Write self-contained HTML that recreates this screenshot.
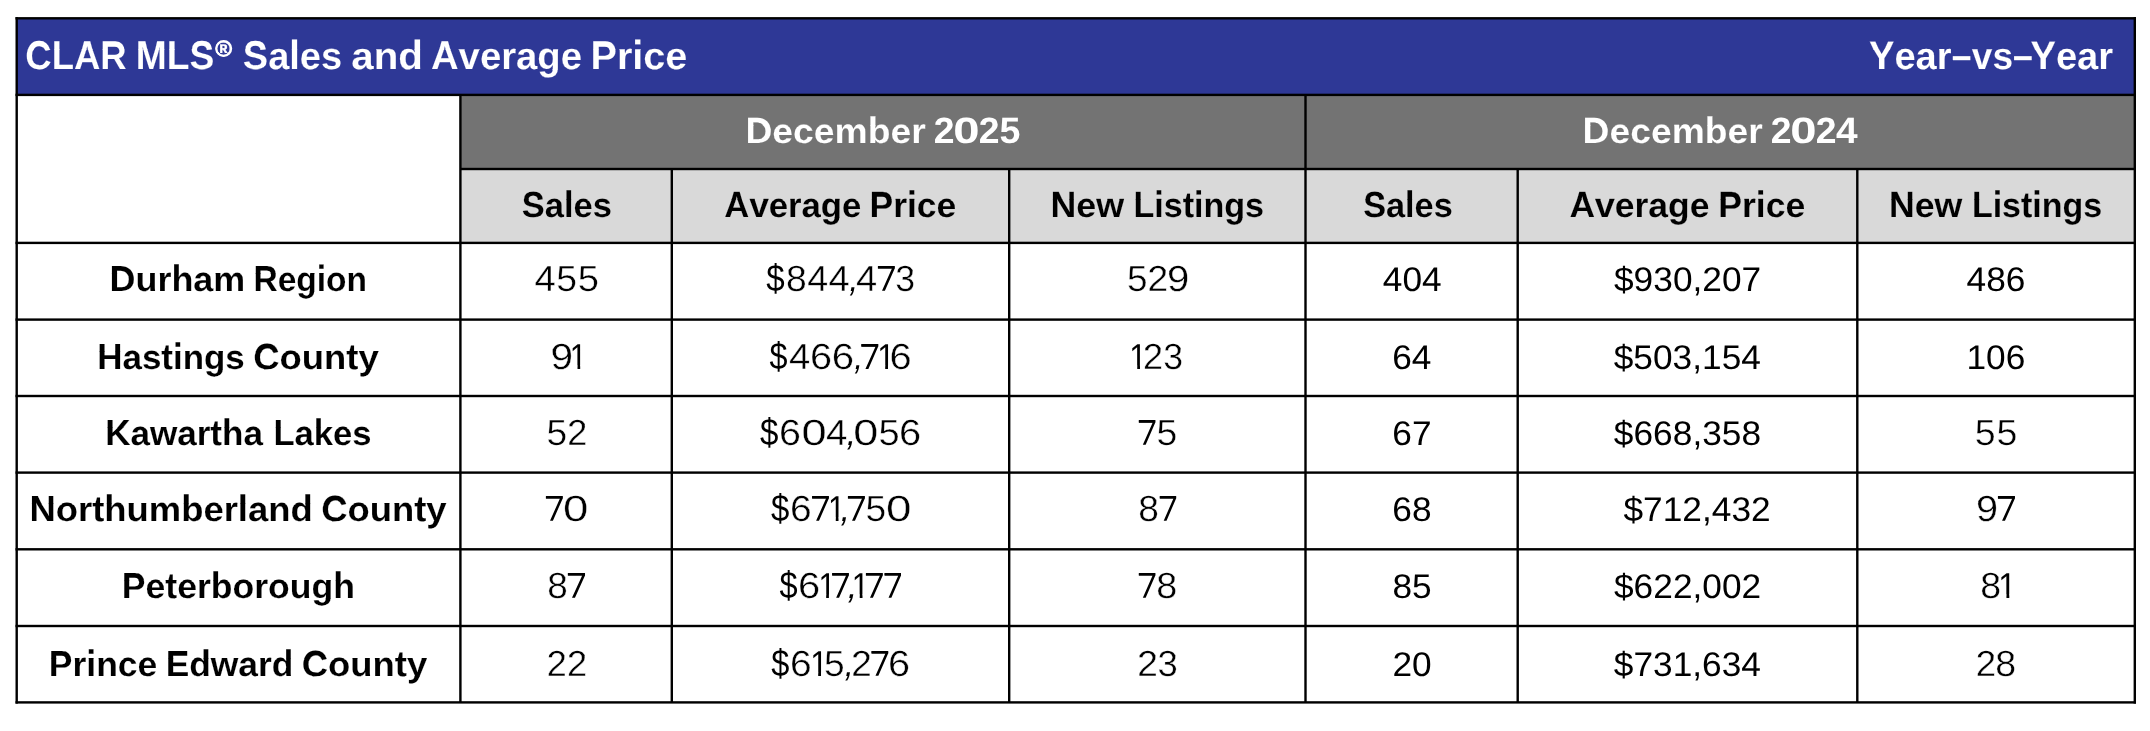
<!DOCTYPE html><html><head><meta charset="utf-8"><title>CLAR MLS Sales and Average Price</title><style>html,body{margin:0;padding:0;background:#fff;width:2150px;height:731px;}svg{display:block;will-change:transform;}text{font-family:"Liberation Sans",sans-serif;font-kerning:none;font-variant-ligatures:none;text-rendering:geometricPrecision;}</style></head><body>
<svg width="2150" height="731" viewBox="0 0 2150 731">
<rect x="0" y="0" width="2150" height="731" fill="#fff"/>
<defs><clipPath id="c0"><rect x="0" y="49" width="2150" height="21"/></clipPath><clipPath id="c1"><rect x="0" y="0" width="2150" height="50"/></clipPath><clipPath id="c2"><rect x="0" y="69" width="2150" height="662"/></clipPath><clipPath id="c3"><rect x="0" y="125" width="2150" height="19"/></clipPath><clipPath id="c4"><rect x="0" y="0" width="2150" height="126"/></clipPath><clipPath id="c5"><rect x="0" y="143" width="2150" height="588"/></clipPath><clipPath id="c6"><rect x="0" y="199" width="2150" height="19"/></clipPath><clipPath id="c7"><rect x="0" y="0" width="2150" height="200"/></clipPath><clipPath id="c8"><rect x="0" y="217" width="2150" height="514"/></clipPath><clipPath id="c9"><rect x="0" y="273" width="2150" height="19"/></clipPath><clipPath id="c10"><rect x="0" y="0" width="2150" height="274"/></clipPath><clipPath id="c11"><rect x="0" y="291" width="2150" height="440"/></clipPath><clipPath id="c12"><rect x="0" y="351" width="2150" height="19"/></clipPath><clipPath id="c13"><rect x="0" y="0" width="2150" height="352"/></clipPath><clipPath id="c14"><rect x="0" y="369" width="2150" height="362"/></clipPath><clipPath id="c15"><rect x="0" y="427" width="2150" height="19"/></clipPath><clipPath id="c16"><rect x="0" y="0" width="2150" height="428"/></clipPath><clipPath id="c17"><rect x="0" y="445" width="2150" height="286"/></clipPath><clipPath id="c18"><rect x="0" y="503" width="2150" height="19"/></clipPath><clipPath id="c19"><rect x="0" y="0" width="2150" height="504"/></clipPath><clipPath id="c20"><rect x="0" y="521" width="2150" height="210"/></clipPath><clipPath id="c21"><rect x="0" y="580" width="2150" height="19"/></clipPath><clipPath id="c22"><rect x="0" y="0" width="2150" height="581"/></clipPath><clipPath id="c23"><rect x="0" y="598" width="2150" height="133"/></clipPath><clipPath id="c24"><rect x="0" y="658" width="2150" height="19"/></clipPath><clipPath id="c25"><rect x="0" y="0" width="2150" height="659"/></clipPath><clipPath id="c26"><rect x="0" y="676" width="2150" height="55"/></clipPath><clipPath id="k0"><rect x="876.00" y="263.90" width="20.70" height="4.48"/></clipPath><clipPath id="k1"><rect x="570.20" y="341.10" width="13.00" height="24.51"/><rect x="577.51" y="365.21" width="2.69" height="4.96"/></clipPath><clipPath id="k2"><rect x="859.40" y="342.10" width="20.80" height="4.48"/></clipPath><clipPath id="k3"><rect x="877.70" y="341.10" width="13.30" height="24.51"/><rect x="885.19" y="365.21" width="2.81" height="4.96"/></clipPath><clipPath id="k4"><rect x="1129.80" y="341.10" width="13.20" height="24.51"/><rect x="1137.23" y="365.21" width="2.77" height="4.96"/></clipPath><clipPath id="k5"><rect x="1136.90" y="418.00" width="20.40" height="4.48"/></clipPath><clipPath id="k6"><rect x="544.00" y="493.90" width="20.70" height="4.48"/></clipPath><clipPath id="k7"><rect x="810.10" y="493.90" width="20.70" height="4.48"/></clipPath><clipPath id="k8"><rect x="828.40" y="492.90" width="13.10" height="24.51"/><rect x="835.77" y="517.01" width="2.73" height="4.96"/></clipPath><clipPath id="k9"><rect x="846.00" y="493.90" width="20.80" height="4.48"/></clipPath><clipPath id="k10"><rect x="1157.80" y="493.90" width="20.30" height="4.48"/></clipPath><clipPath id="k11"><rect x="565.90" y="570.90" width="21.10" height="4.48"/></clipPath><clipPath id="k12"><rect x="818.80" y="569.90" width="13.10" height="24.51"/><rect x="826.17" y="594.01" width="2.73" height="4.96"/></clipPath><clipPath id="k13"><rect x="830.20" y="570.90" width="20.60" height="4.48"/></clipPath><clipPath id="k14"><rect x="852.30" y="569.90" width="13.20" height="24.51"/><rect x="859.73" y="594.01" width="2.77" height="4.96"/></clipPath><clipPath id="k15"><rect x="864.00" y="570.90" width="20.70" height="4.48"/></clipPath><clipPath id="k16"><rect x="882.60" y="570.90" width="20.40" height="4.48"/></clipPath><clipPath id="k17"><rect x="1136.90" y="570.90" width="20.40" height="4.48"/></clipPath><clipPath id="k18"><rect x="1998.90" y="570.00" width="13.40" height="24.51"/><rect x="2006.45" y="594.11" width="2.85" height="4.96"/></clipPath><clipPath id="k19"><rect x="1996.00" y="494.00" width="20.90" height="4.48"/></clipPath><clipPath id="k20"><rect x="810.70" y="647.90" width="13.30" height="24.51"/><rect x="818.19" y="672.01" width="2.81" height="4.96"/></clipPath><clipPath id="k21"><rect x="869.50" y="648.90" width="20.60" height="4.48"/></clipPath></defs>
<rect x="16.7" y="18.3" width="2118.10" height="76.60" fill="#2e3896"/>
<rect x="460.4" y="94.9" width="1674.40" height="74.10" fill="#737373"/>
<rect x="460.4" y="169.0" width="1674.40" height="73.90" fill="#d9d9d9"/>
<g clip-path="url(#c0)"><text id="t1" transform="matrix(0.36527 0 0 0.37897 25.30 69.10)" font-size="100.0" font-weight="bold" fill="#fff" stroke="#2e3896" stroke-width="0.322">CLAR</text></g>
<g clip-path="url(#c1)"><use href="#t1" transform="matrix(1 0 0 1.29265 0 -14.363)"/></g>
<g clip-path="url(#c2)"><use href="#t1" transform="matrix(1 0 0 1.08158 0 -5.637)"/></g>
<g clip-path="url(#c0)"><text id="t2" transform="matrix(0.37159 0 0 0.37897 135.81 69.10)" font-size="100.0" font-weight="bold" fill="#fff" stroke="#2e3896" stroke-width="0.320">MLS</text></g>
<g clip-path="url(#c1)"><use href="#t2" transform="matrix(1 0 0 1.29265 0 -14.363)"/></g>
<g clip-path="url(#c2)"><use href="#t2" transform="matrix(1 0 0 1.08158 0 -5.637)"/></g>
<g clip-path="url(#c0)"><text id="t3" transform="matrix(0.37980 0 0 0.37897 242.81 69.10)" font-size="100.0" font-weight="bold" fill="#fff" stroke="#2e3896" stroke-width="0.316">Sales</text></g>
<g clip-path="url(#c1)"><use href="#t3" transform="matrix(1 0 0 1.29265 0 -14.363)"/></g>
<g clip-path="url(#c2)"><use href="#t3" transform="matrix(1 0 0 1.08158 0 -5.637)"/></g>
<g clip-path="url(#c0)"><text id="t4" transform="matrix(0.40354 0 0 0.37897 351.22 69.10)" font-size="100.0" font-weight="bold" fill="#fff" stroke="#2e3896" stroke-width="0.307">and</text></g>
<g clip-path="url(#c1)"><use href="#t4" transform="matrix(1 0 0 1.29265 0 -14.363)"/></g>
<g clip-path="url(#c2)"><use href="#t4" transform="matrix(1 0 0 1.08158 0 -5.637)"/></g>
<g clip-path="url(#c0)"><text id="t5" transform="matrix(0.38275 0 0 0.37897 430.95 69.10)" font-size="100.0" font-weight="bold" fill="#fff" stroke="#2e3896" stroke-width="0.315">Average</text></g>
<g clip-path="url(#c1)"><use href="#t5" transform="matrix(1 0 0 1.29265 0 -14.363)"/></g>
<g clip-path="url(#c2)"><use href="#t5" transform="matrix(1 0 0 1.08158 0 -5.637)"/></g>
<g clip-path="url(#c0)"><text id="t6" transform="matrix(0.39570 0 0 0.37897 590.55 69.10)" font-size="100.0" font-weight="bold" fill="#fff" stroke="#2e3896" stroke-width="0.310">Price</text></g>
<g clip-path="url(#c1)"><use href="#t6" transform="matrix(1 0 0 1.29265 0 -14.363)"/></g>
<g clip-path="url(#c2)"><use href="#t6" transform="matrix(1 0 0 1.08158 0 -5.637)"/></g>
<text transform="matrix(0.21574 0 0 0.21360 215.56 55.60)" font-size="100.0" font-weight="bold" fill="#fff" stroke="#fff" stroke-width="1.85">®</text>
<circle cx="223.7" cy="48.45" r="7.55" fill="none" stroke="#fff" stroke-width="1.9"/>
<g clip-path="url(#c0)"><text id="t7" transform="matrix(0.38058 0 0 0.37763 1869.05 69.10)" font-size="100.0" font-weight="bold" fill="#fff" stroke="#2e3896" stroke-width="0.317">Year</text></g>
<g clip-path="url(#c1)"><use href="#t7" transform="matrix(1 0 0 1.29289 0 -14.395)"/></g>
<g clip-path="url(#c2)"><use href="#t7" transform="matrix(1 0 0 1.08158 0 -5.637)"/></g>
<g clip-path="url(#c0)"><text id="t8" transform="matrix(0.37100 0 0 0.37763 1971.76 69.10)" font-size="100.0" font-weight="bold" fill="#fff" stroke="#2e3896" stroke-width="0.321">vs</text></g>
<g clip-path="url(#c1)"><use href="#t8" transform="matrix(1 0 0 1.29289 0 -14.395)"/></g>
<g clip-path="url(#c2)"><use href="#t8" transform="matrix(1 0 0 1.08158 0 -5.637)"/></g>
<g clip-path="url(#c0)"><text id="t9" transform="matrix(0.38058 0 0 0.37763 2030.55 69.10)" font-size="100.0" font-weight="bold" fill="#fff" stroke="#2e3896" stroke-width="0.317">Year</text></g>
<g clip-path="url(#c1)"><use href="#t9" transform="matrix(1 0 0 1.29289 0 -14.395)"/></g>
<g clip-path="url(#c2)"><use href="#t9" transform="matrix(1 0 0 1.08158 0 -5.637)"/></g>
<text transform="matrix(0.35345 0 0 0.40355 1951.83 69.13)" font-size="100.0" font-weight="bold" fill="#fff">–</text>
<text transform="matrix(0.35547 0 0 0.40355 2012.92 69.13)" font-size="100.0" font-weight="bold" fill="#fff">–</text>
<g clip-path="url(#c3)"><text id="t10" transform="matrix(0.37296 0 0 0.33866 745.41 143.10)" font-size="100.0" font-weight="bold" fill="#fff" stroke="#737373" stroke-width="0.337">December</text></g>
<g clip-path="url(#c4)"><use href="#t10" transform="matrix(1 0 0 1.30065 0 -37.644)"/></g>
<g clip-path="url(#c5)"><use href="#t10" transform="matrix(1 0 0 1.08158 0 -11.674)"/></g>
<g clip-path="url(#c3)"><text id="t11" transform="matrix(0.37254 0 0 0.33866 1582.61 143.10)" font-size="100.0" font-weight="bold" fill="#fff" stroke="#737373" stroke-width="0.337">December</text></g>
<g clip-path="url(#c4)"><use href="#t11" transform="matrix(1 0 0 1.30065 0 -37.644)"/></g>
<g clip-path="url(#c5)"><use href="#t11" transform="matrix(1 0 0 1.08158 0 -11.674)"/></g>
<text transform="matrix(0.37387 0 0 0.36629 933.70 143.10)" font-size="100.0" font-weight="bold" fill="#fff">2</text>
<text transform="matrix(0.47310 0 0 0.36629 953.23 143.10)" font-size="100.0" font-weight="bold" fill="#fff">0</text>
<text transform="matrix(0.37387 0 0 0.36629 978.80 143.10)" font-size="100.0" font-weight="bold" fill="#fff">2</text>
<text transform="matrix(0.37584 0 0 0.36629 999.44 143.10)" font-size="100.0" font-weight="bold" fill="#fff">5</text>
<text transform="matrix(0.37387 0 0 0.36629 1770.70 143.10)" font-size="100.0" font-weight="bold" fill="#fff">2</text>
<text transform="matrix(0.47310 0 0 0.36629 1790.23 143.10)" font-size="100.0" font-weight="bold" fill="#fff">0</text>
<text transform="matrix(0.37387 0 0 0.36629 1815.80 143.10)" font-size="100.0" font-weight="bold" fill="#fff">2</text>
<text transform="matrix(0.38832 0 0 0.36629 1835.91 143.10)" font-size="100.0" font-weight="bold" fill="#fff">4</text>
<g clip-path="url(#c6)"><text id="t12" transform="matrix(0.34481 0 0 0.33731 521.71 217.00)" font-size="100.0" font-weight="bold" fill="#000" stroke="#d9d9d9" stroke-width="0.352">Sales</text></g>
<g clip-path="url(#c7)"><use href="#t12" transform="matrix(1 0 0 1.30095 0 -59.943)"/></g>
<g clip-path="url(#c8)"><use href="#t12" transform="matrix(1 0 0 1.08158 0 -17.702)"/></g>
<g clip-path="url(#c6)"><text id="t13" transform="matrix(0.34673 0 0 0.33731 724.34 217.00)" font-size="100.0" font-weight="bold" fill="#000" stroke="#d9d9d9" stroke-width="0.351">Average</text></g>
<g clip-path="url(#c7)"><use href="#t13" transform="matrix(1 0 0 1.30095 0 -59.943)"/></g>
<g clip-path="url(#c8)"><use href="#t13" transform="matrix(1 0 0 1.08158 0 -17.702)"/></g>
<g clip-path="url(#c6)"><text id="t14" transform="matrix(0.35476 0 0 0.33731 869.53 217.00)" font-size="100.0" font-weight="bold" fill="#000" stroke="#d9d9d9" stroke-width="0.347">Price</text></g>
<g clip-path="url(#c7)"><use href="#t14" transform="matrix(1 0 0 1.30095 0 -59.943)"/></g>
<g clip-path="url(#c8)"><use href="#t14" transform="matrix(1 0 0 1.08158 0 -17.702)"/></g>
<g clip-path="url(#c6)"><text id="t15" transform="matrix(0.35732 0 0 0.33731 1050.56 217.00)" font-size="100.0" font-weight="bold" fill="#000" stroke="#d9d9d9" stroke-width="0.346">New</text></g>
<g clip-path="url(#c7)"><use href="#t15" transform="matrix(1 0 0 1.30095 0 -59.943)"/></g>
<g clip-path="url(#c8)"><use href="#t15" transform="matrix(1 0 0 1.08158 0 -17.702)"/></g>
<g clip-path="url(#c6)"><text id="t16" transform="matrix(0.34075 0 0 0.33731 1133.42 217.00)" font-size="100.0" font-weight="bold" fill="#000" stroke="#d9d9d9" stroke-width="0.354">Listings</text></g>
<g clip-path="url(#c7)"><use href="#t16" transform="matrix(1 0 0 1.30095 0 -59.943)"/></g>
<g clip-path="url(#c8)"><use href="#t16" transform="matrix(1 0 0 1.08158 0 -17.702)"/></g>
<g clip-path="url(#c6)"><text id="t17" transform="matrix(0.34245 0 0 0.33731 1363.21 217.00)" font-size="100.0" font-weight="bold" fill="#000" stroke="#d9d9d9" stroke-width="0.353">Sales</text></g>
<g clip-path="url(#c7)"><use href="#t17" transform="matrix(1 0 0 1.30095 0 -59.943)"/></g>
<g clip-path="url(#c8)"><use href="#t17" transform="matrix(1 0 0 1.08158 0 -17.702)"/></g>
<g clip-path="url(#c6)"><text id="t18" transform="matrix(0.35497 0 0 0.33731 1569.42 217.00)" font-size="100.0" font-weight="bold" fill="#000" stroke="#d9d9d9" stroke-width="0.347">Average</text></g>
<g clip-path="url(#c7)"><use href="#t18" transform="matrix(1 0 0 1.30095 0 -59.943)"/></g>
<g clip-path="url(#c8)"><use href="#t18" transform="matrix(1 0 0 1.08158 0 -17.702)"/></g>
<g clip-path="url(#c6)"><text id="t19" transform="matrix(0.35562 0 0 0.33731 1718.22 217.00)" font-size="100.0" font-weight="bold" fill="#000" stroke="#d9d9d9" stroke-width="0.346">Price</text></g>
<g clip-path="url(#c7)"><use href="#t19" transform="matrix(1 0 0 1.30095 0 -59.943)"/></g>
<g clip-path="url(#c8)"><use href="#t19" transform="matrix(1 0 0 1.08158 0 -17.702)"/></g>
<g clip-path="url(#c6)"><text id="t20" transform="matrix(0.35606 0 0 0.33731 1889.02 217.00)" font-size="100.0" font-weight="bold" fill="#000" stroke="#d9d9d9" stroke-width="0.346">New</text></g>
<g clip-path="url(#c7)"><use href="#t20" transform="matrix(1 0 0 1.30095 0 -59.943)"/></g>
<g clip-path="url(#c8)"><use href="#t20" transform="matrix(1 0 0 1.08158 0 -17.702)"/></g>
<g clip-path="url(#c6)"><text id="t21" transform="matrix(0.33941 0 0 0.33731 1971.93 217.00)" font-size="100.0" font-weight="bold" fill="#000" stroke="#d9d9d9" stroke-width="0.355">Listings</text></g>
<g clip-path="url(#c7)"><use href="#t21" transform="matrix(1 0 0 1.30095 0 -59.943)"/></g>
<g clip-path="url(#c8)"><use href="#t21" transform="matrix(1 0 0 1.08158 0 -17.702)"/></g>
<g clip-path="url(#c9)"><text id="t22" transform="matrix(0.35896 0 0 0.33597 109.60 290.90)" font-size="100.0" font-weight="bold" fill="#000" stroke="#fff" stroke-width="0.345">Durham</text></g>
<g clip-path="url(#c10)"><use href="#t22" transform="matrix(1 0 0 1.30125 0 -82.288)"/></g>
<g clip-path="url(#c11)"><use href="#t22" transform="matrix(1 0 0 1.08158 0 -23.731)"/></g>
<g clip-path="url(#c9)"><text id="t23" transform="matrix(0.33530 0 0 0.33597 253.46 290.90)" font-size="100.0" font-weight="bold" fill="#000" stroke="#fff" stroke-width="0.358">Region</text></g>
<g clip-path="url(#c10)"><use href="#t23" transform="matrix(1 0 0 1.30125 0 -82.288)"/></g>
<g clip-path="url(#c11)"><use href="#t23" transform="matrix(1 0 0 1.08158 0 -23.731)"/></g>
<g clip-path="url(#c12)"><text id="t24" transform="matrix(0.34919 0 0 0.33597 97.26 369.00)" font-size="100.0" font-weight="bold" fill="#000" stroke="#fff" stroke-width="0.350">Hastings</text></g>
<g clip-path="url(#c13)"><use href="#t24" transform="matrix(1 0 0 1.30125 0 -105.816)"/></g>
<g clip-path="url(#c14)"><use href="#t24" transform="matrix(1 0 0 1.08158 0 -30.102)"/></g>
<g clip-path="url(#c12)"><text id="t25" transform="matrix(0.36410 0 0 0.33597 253.31 369.00)" font-size="100.0" font-weight="bold" fill="#000" stroke="#fff" stroke-width="0.343">County</text></g>
<g clip-path="url(#c13)"><use href="#t25" transform="matrix(1 0 0 1.30125 0 -105.816)"/></g>
<g clip-path="url(#c14)"><use href="#t25" transform="matrix(1 0 0 1.08158 0 -30.102)"/></g>
<g clip-path="url(#c15)"><text id="t26" transform="matrix(0.35015 0 0 0.33597 105.26 444.80)" font-size="100.0" font-weight="bold" fill="#000" stroke="#fff" stroke-width="0.350">Kawartha</text></g>
<g clip-path="url(#c16)"><use href="#t26" transform="matrix(1 0 0 1.30125 0 -128.651)"/></g>
<g clip-path="url(#c17)"><use href="#t26" transform="matrix(1 0 0 1.08158 0 -36.286)"/></g>
<g clip-path="url(#c15)"><text id="t27" transform="matrix(0.34573 0 0 0.33597 273.39 444.80)" font-size="100.0" font-weight="bold" fill="#000" stroke="#fff" stroke-width="0.352">Lakes</text></g>
<g clip-path="url(#c16)"><use href="#t27" transform="matrix(1 0 0 1.30125 0 -128.651)"/></g>
<g clip-path="url(#c17)"><use href="#t27" transform="matrix(1 0 0 1.08158 0 -36.286)"/></g>
<g clip-path="url(#c18)"><text id="t28" transform="matrix(0.36403 0 0 0.33597 29.56 520.70)" font-size="100.0" font-weight="bold" fill="#000" stroke="#fff" stroke-width="0.343">Northumberland</text></g>
<g clip-path="url(#c19)"><use href="#t28" transform="matrix(1 0 0 1.30125 0 -151.516)"/></g>
<g clip-path="url(#c20)"><use href="#t28" transform="matrix(1 0 0 1.08158 0 -42.478)"/></g>
<g clip-path="url(#c18)"><text id="t29" transform="matrix(0.36380 0 0 0.33597 321.31 520.70)" font-size="100.0" font-weight="bold" fill="#000" stroke="#fff" stroke-width="0.343">County</text></g>
<g clip-path="url(#c19)"><use href="#t29" transform="matrix(1 0 0 1.30125 0 -151.516)"/></g>
<g clip-path="url(#c20)"><use href="#t29" transform="matrix(1 0 0 1.08158 0 -42.478)"/></g>
<g clip-path="url(#c21)"><text id="t30" transform="matrix(0.35570 0 0 0.33597 121.82 597.80)" font-size="100.0" font-weight="bold" fill="#000" stroke="#fff" stroke-width="0.347">Peterborough</text></g>
<g clip-path="url(#c22)"><use href="#t30" transform="matrix(1 0 0 1.30125 0 -174.742)"/></g>
<g clip-path="url(#c23)"><use href="#t30" transform="matrix(1 0 0 1.08158 0 -48.767)"/></g>
<g clip-path="url(#c24)"><text id="t31" transform="matrix(0.35486 0 0 0.33597 48.83 675.90)" font-size="100.0" font-weight="bold" fill="#000" stroke="#fff" stroke-width="0.347">Prince</text></g>
<g clip-path="url(#c25)"><use href="#t31" transform="matrix(1 0 0 1.30125 0 -198.270)"/></g>
<g clip-path="url(#c26)"><use href="#t31" transform="matrix(1 0 0 1.08158 0 -55.139)"/></g>
<g clip-path="url(#c24)"><text id="t32" transform="matrix(0.35355 0 0 0.33597 165.63 675.90)" font-size="100.0" font-weight="bold" fill="#000" stroke="#fff" stroke-width="0.348">Edward</text></g>
<g clip-path="url(#c25)"><use href="#t32" transform="matrix(1 0 0 1.30125 0 -198.270)"/></g>
<g clip-path="url(#c26)"><use href="#t32" transform="matrix(1 0 0 1.08158 0 -55.139)"/></g>
<g clip-path="url(#c24)"><text id="t33" transform="matrix(0.36439 0 0 0.33597 301.71 675.90)" font-size="100.0" font-weight="bold" fill="#000" stroke="#fff" stroke-width="0.343">County</text></g>
<g clip-path="url(#c25)"><use href="#t33" transform="matrix(1 0 0 1.30125 0 -198.270)"/></g>
<g clip-path="url(#c26)"><use href="#t33" transform="matrix(1 0 0 1.08158 0 -55.139)"/></g>
<text transform="matrix(0.38301 0 0 0.36338 534.52 290.70)" font-size="100.0" font-weight="normal" fill="#000" stroke="#fff" stroke-width="1.072" stroke-linejoin="round">4</text>
<text transform="matrix(0.37332 0 0 0.36338 556.31 290.70)" font-size="100.0" font-weight="normal" fill="#000" stroke="#fff" stroke-width="1.086" stroke-linejoin="round">5</text>
<text transform="matrix(0.38176 0 0 0.36338 577.77 290.70)" font-size="100.0" font-weight="normal" fill="#000" stroke="#fff" stroke-width="1.074" stroke-linejoin="round">5</text>
<text transform="matrix(0.33063 0 0 0.37798 766.34 291.08)" font-size="100.0" font-weight="normal" fill="#000">$</text>
<text transform="matrix(0.37294 0 0 0.36338 785.88 290.70)" font-size="100.0" font-weight="normal" fill="#000" stroke="#fff" stroke-width="1.086" stroke-linejoin="round">8</text>
<text transform="matrix(0.37705 0 0 0.36338 807.33 290.70)" font-size="100.0" font-weight="normal" fill="#000" stroke="#fff" stroke-width="1.080" stroke-linejoin="round">4</text>
<text transform="matrix(0.38102 0 0 0.36338 828.53 290.70)" font-size="100.0" font-weight="normal" fill="#000" stroke="#fff" stroke-width="1.075" stroke-linejoin="round">4</text>
<text transform="matrix(0.32085 0 -0.06604 0.34133 847.66 290.70)" font-size="100.0" fill="#000">,</text>
<text transform="matrix(0.38102 0 0 0.36338 856.03 290.70)" font-size="100.0" font-weight="normal" fill="#000" stroke="#fff" stroke-width="1.075" stroke-linejoin="round">4</text>
<path d="M878.00,265.90 L894.70,265.90 L894.70,268.38 L884.90,290.70 L882.01,290.70 L891.94,268.53 L878.00,268.53 Z" fill="#000"/>
<g clip-path="url(#k0)"><text transform="matrix(0.36736 0 0 0.36047 876.12 290.70)" font-size="100.0" font-weight="normal" fill="#000">7</text></g>
<text transform="matrix(0.35645 0 0 0.36338 895.24 290.70)" font-size="100.0" font-weight="normal" fill="#000" stroke="#fff" stroke-width="1.111" stroke-linejoin="round">3</text>
<text transform="matrix(0.36910 0 0 0.36338 1127.02 290.70)" font-size="100.0" font-weight="normal" fill="#000" stroke="#fff" stroke-width="1.092" stroke-linejoin="round">5</text>
<text transform="matrix(0.37097 0 0 0.36338 1147.43 290.70)" font-size="100.0" font-weight="normal" fill="#000" stroke="#fff" stroke-width="1.089" stroke-linejoin="round">2</text>
<text transform="matrix(0.40051 0 0 0.36338 1167.12 290.70)" font-size="100.0" font-weight="normal" fill="#000" stroke="#fff" stroke-width="1.047" stroke-linejoin="round">9</text>
<text transform="matrix(0.40484 0 0 0.36338 550.40 368.90)" font-size="100.0" font-weight="normal" fill="#000" stroke="#fff" stroke-width="1.041" stroke-linejoin="round">9</text>
<g clip-path="url(#k1)"><text transform="matrix(0.30453 0 0 0.36047 569.85 368.90)" font-size="100.0" font-weight="normal" fill="#000">1</text></g>
<text transform="matrix(0.32307 0 0 0.37798 769.45 369.28)" font-size="100.0" font-weight="normal" fill="#000">$</text>
<text transform="matrix(0.38301 0 0 0.36338 789.02 368.90)" font-size="100.0" font-weight="normal" fill="#000" stroke="#fff" stroke-width="1.072" stroke-linejoin="round">4</text>
<text transform="matrix(0.39660 0 0 0.36338 809.89 368.90)" font-size="100.0" font-weight="normal" fill="#000" stroke="#fff" stroke-width="1.053" stroke-linejoin="round">6</text>
<text transform="matrix(0.40093 0 0 0.36338 831.76 368.90)" font-size="100.0" font-weight="normal" fill="#000" stroke="#fff" stroke-width="1.047" stroke-linejoin="round">6</text>
<text transform="matrix(0.31403 0 -0.06463 0.34133 852.71 368.90)" font-size="100.0" fill="#000">,</text>
<path d="M861.40,344.10 L878.20,344.10 L878.20,346.58 L868.34,368.90 L865.43,368.90 L875.43,346.73 L861.40,346.73 Z" fill="#000"/>
<g clip-path="url(#k2)"><text transform="matrix(0.36956 0 0 0.36047 859.51 368.90)" font-size="100.0" font-weight="normal" fill="#000">7</text></g>
<g clip-path="url(#k3)"><text transform="matrix(0.31758 0 0 0.36047 877.21 368.90)" font-size="100.0" font-weight="normal" fill="#000">1</text></g>
<text transform="matrix(0.39876 0 0 0.36338 889.48 368.90)" font-size="100.0" font-weight="normal" fill="#000" stroke="#fff" stroke-width="1.050" stroke-linejoin="round">6</text>
<g clip-path="url(#k4)"><text transform="matrix(0.31323 0 0 0.36047 1129.35 368.90)" font-size="100.0" font-weight="normal" fill="#000">1</text></g>
<text transform="matrix(0.35999 0 0 0.36338 1142.99 368.90)" font-size="100.0" font-weight="normal" fill="#000" stroke="#fff" stroke-width="1.106" stroke-linejoin="round">2</text>
<text transform="matrix(0.35645 0 0 0.36338 1163.14 368.90)" font-size="100.0" font-weight="normal" fill="#000" stroke="#fff" stroke-width="1.111" stroke-linejoin="round">3</text>
<text transform="matrix(0.37121 0 0 0.36338 546.51 444.80)" font-size="100.0" font-weight="normal" fill="#000" stroke="#fff" stroke-width="1.089" stroke-linejoin="round">5</text>
<text transform="matrix(0.35999 0 0 0.36338 567.29 444.80)" font-size="100.0" font-weight="normal" fill="#000" stroke="#fff" stroke-width="1.106" stroke-linejoin="round">2</text>
<text transform="matrix(0.33063 0 0 0.37798 760.04 445.18)" font-size="100.0" font-weight="normal" fill="#000">$</text>
<text transform="matrix(0.39443 0 0 0.36338 779.10 444.80)" font-size="100.0" font-weight="normal" fill="#000" stroke="#fff" stroke-width="1.056" stroke-linejoin="round">6</text>
<text transform="matrix(0.45186 0 0 0.36338 801.43 444.80)" font-size="100.0" font-weight="normal" fill="#000" stroke="#fff" stroke-width="0.981" stroke-linejoin="round">0</text>
<text transform="matrix(0.38499 0 0 0.36338 826.02 444.80)" font-size="100.0" font-weight="normal" fill="#000" stroke="#fff" stroke-width="1.069" stroke-linejoin="round">4</text>
<text transform="matrix(0.34133 0 -0.07025 0.34133 844.93 444.80)" font-size="100.0" fill="#000">,</text>
<text transform="matrix(0.44977 0 0 0.36338 853.34 444.80)" font-size="100.0" font-weight="normal" fill="#000" stroke="#fff" stroke-width="0.984" stroke-linejoin="round">0</text>
<text transform="matrix(0.37965 0 0 0.36338 878.38 444.80)" font-size="100.0" font-weight="normal" fill="#000" stroke="#fff" stroke-width="1.077" stroke-linejoin="round">5</text>
<text transform="matrix(0.39876 0 0 0.36338 899.08 444.80)" font-size="100.0" font-weight="normal" fill="#000" stroke="#fff" stroke-width="1.050" stroke-linejoin="round">6</text>
<path d="M1138.90,420.00 L1155.30,420.00 L1155.30,422.48 L1145.67,444.80 L1142.84,444.80 L1152.59,422.63 L1138.90,422.63 Z" fill="#000"/>
<g clip-path="url(#k5)"><text transform="matrix(0.36076 0 0 0.36047 1137.05 444.80)" font-size="100.0" font-weight="normal" fill="#000">7</text></g>
<text transform="matrix(0.37332 0 0 0.36338 1156.41 444.80)" font-size="100.0" font-weight="normal" fill="#000" stroke="#fff" stroke-width="1.086" stroke-linejoin="round">5</text>
<path d="M546.00,495.90 L562.70,495.90 L562.70,498.38 L552.90,520.70 L550.01,520.70 L559.94,498.53 L546.00,498.53 Z" fill="#000"/>
<g clip-path="url(#k6)"><text transform="matrix(0.36736 0 0 0.36047 544.12 520.70)" font-size="100.0" font-weight="normal" fill="#000">7</text></g>
<text transform="matrix(0.45604 0 0 0.36338 563.02 520.70)" font-size="100.0" font-weight="normal" fill="#000" stroke="#fff" stroke-width="0.976" stroke-linejoin="round">0</text>
<text transform="matrix(0.32874 0 0 0.37798 770.95 521.08)" font-size="100.0" font-weight="normal" fill="#000">$</text>
<text transform="matrix(0.39010 0 0 0.36338 789.92 520.70)" font-size="100.0" font-weight="normal" fill="#000" stroke="#fff" stroke-width="1.062" stroke-linejoin="round">6</text>
<path d="M812.10,495.90 L828.80,495.90 L828.80,498.38 L819.00,520.70 L816.11,520.70 L826.04,498.53 L812.10,498.53 Z" fill="#000"/>
<g clip-path="url(#k7)"><text transform="matrix(0.36736 0 0 0.36047 810.22 520.70)" font-size="100.0" font-weight="normal" fill="#000">7</text></g>
<g clip-path="url(#k8)"><text transform="matrix(0.30888 0 0 0.36047 828.00 520.70)" font-size="100.0" font-weight="normal" fill="#000">1</text></g>
<text transform="matrix(0.33451 0 -0.06885 0.34133 838.98 520.70)" font-size="100.0" fill="#000">,</text>
<path d="M848.00,495.90 L864.80,495.90 L864.80,498.38 L854.94,520.70 L852.03,520.70 L862.03,498.53 L848.00,498.53 Z" fill="#000"/>
<g clip-path="url(#k9)"><text transform="matrix(0.36956 0 0 0.36047 846.11 520.70)" font-size="100.0" font-weight="normal" fill="#000">7</text></g>
<text transform="matrix(0.37121 0 0 0.36338 865.51 520.70)" font-size="100.0" font-weight="normal" fill="#000" stroke="#fff" stroke-width="1.089" stroke-linejoin="round">5</text>
<text transform="matrix(0.45813 0 0 0.36338 886.11 520.70)" font-size="100.0" font-weight="normal" fill="#000" stroke="#fff" stroke-width="0.974" stroke-linejoin="round">0</text>
<text transform="matrix(0.37081 0 0 0.36338 1138.29 520.70)" font-size="100.0" font-weight="normal" fill="#000" stroke="#fff" stroke-width="1.090" stroke-linejoin="round">8</text>
<path d="M1159.80,495.90 L1176.10,495.90 L1176.10,498.38 L1166.53,520.70 L1163.71,520.70 L1173.41,498.53 L1159.80,498.53 Z" fill="#000"/>
<g clip-path="url(#k10)"><text transform="matrix(0.35856 0 0 0.36047 1157.96 520.70)" font-size="100.0" font-weight="normal" fill="#000">7</text></g>
<text transform="matrix(0.36868 0 0 0.36338 547.30 597.70)" font-size="100.0" font-weight="normal" fill="#000" stroke="#fff" stroke-width="1.093" stroke-linejoin="round">8</text>
<path d="M567.90,572.90 L585.00,572.90 L585.00,575.38 L574.96,597.70 L572.00,597.70 L582.18,575.53 L567.90,575.53 Z" fill="#000"/>
<g clip-path="url(#k11)"><text transform="matrix(0.37616 0 0 0.36047 565.97 597.70)" font-size="100.0" font-weight="normal" fill="#000">7</text></g>
<text transform="matrix(0.32496 0 0 0.37798 779.45 598.08)" font-size="100.0" font-weight="normal" fill="#000">$</text>
<text transform="matrix(0.39876 0 0 0.36338 798.08 597.70)" font-size="100.0" font-weight="normal" fill="#000" stroke="#fff" stroke-width="1.050" stroke-linejoin="round">6</text>
<g clip-path="url(#k12)"><text transform="matrix(0.30888 0 0 0.36047 818.40 597.70)" font-size="100.0" font-weight="normal" fill="#000">1</text></g>
<path d="M832.20,572.90 L848.80,572.90 L848.80,575.38 L839.06,597.70 L836.18,597.70 L846.06,575.53 L832.20,575.53 Z" fill="#000"/>
<g clip-path="url(#k13)"><text transform="matrix(0.36516 0 0 0.36047 830.33 597.70)" font-size="100.0" font-weight="normal" fill="#000">7</text></g>
<text transform="matrix(0.34816 0 -0.07166 0.34133 845.89 597.70)" font-size="100.0" fill="#000">,</text>
<g clip-path="url(#k14)"><text transform="matrix(0.31323 0 0 0.36047 851.85 597.70)" font-size="100.0" font-weight="normal" fill="#000">1</text></g>
<path d="M866.00,572.90 L882.70,572.90 L882.70,575.38 L872.90,597.70 L870.01,597.70 L879.94,575.53 L866.00,575.53 Z" fill="#000"/>
<g clip-path="url(#k15)"><text transform="matrix(0.36736 0 0 0.36047 864.12 597.70)" font-size="100.0" font-weight="normal" fill="#000">7</text></g>
<path d="M884.60,572.90 L901.00,572.90 L901.00,575.38 L891.37,597.70 L888.54,597.70 L898.29,575.53 L884.60,575.53 Z" fill="#000"/>
<g clip-path="url(#k16)"><text transform="matrix(0.36076 0 0 0.36047 882.75 597.70)" font-size="100.0" font-weight="normal" fill="#000">7</text></g>
<path d="M1138.90,572.90 L1155.30,572.90 L1155.30,575.38 L1145.67,597.70 L1142.84,597.70 L1152.59,575.53 L1138.90,575.53 Z" fill="#000"/>
<g clip-path="url(#k17)"><text transform="matrix(0.36076 0 0 0.36047 1137.05 597.70)" font-size="100.0" font-weight="normal" fill="#000">7</text></g>
<text transform="matrix(0.37721 0 0 0.36338 1156.26 597.70)" font-size="100.0" font-weight="normal" fill="#000" stroke="#fff" stroke-width="1.080" stroke-linejoin="round">8</text>
<text transform="matrix(0.37508 0 0 0.36338 1980.37 597.80)" font-size="100.0" font-weight="normal" fill="#000" stroke="#fff" stroke-width="1.083" stroke-linejoin="round">8</text>
<g clip-path="url(#k18)"><text transform="matrix(0.32193 0 0 0.36047 1998.36 597.80)" font-size="100.0" font-weight="normal" fill="#000">1</text></g>
<text transform="matrix(0.37543 0 0 0.36338 1974.80 444.80)" font-size="100.0" font-weight="normal" fill="#000" stroke="#fff" stroke-width="1.083" stroke-linejoin="round">5</text>
<text transform="matrix(0.37543 0 0 0.36338 1996.50 444.80)" font-size="100.0" font-weight="normal" fill="#000" stroke="#fff" stroke-width="1.083" stroke-linejoin="round">5</text>
<text transform="matrix(0.39618 0 0 0.36338 1976.04 520.80)" font-size="100.0" font-weight="normal" fill="#000" stroke="#fff" stroke-width="1.053" stroke-linejoin="round">9</text>
<path d="M1998.00,496.00 L2014.90,496.00 L2014.90,498.48 L2004.98,520.80 L2002.06,520.80 L2012.11,498.63 L1998.00,498.63 Z" fill="#000"/>
<g clip-path="url(#k19)"><text transform="matrix(0.37176 0 0 0.36047 1996.09 520.80)" font-size="100.0" font-weight="normal" fill="#000">7</text></g>
<text transform="matrix(0.36658 0 0 0.36338 1975.66 675.60)" font-size="100.0" font-weight="normal" fill="#000" stroke="#fff" stroke-width="1.096" stroke-linejoin="round">2</text>
<text transform="matrix(0.37508 0 0 0.36338 1995.17 675.60)" font-size="100.0" font-weight="normal" fill="#000" stroke="#fff" stroke-width="1.083" stroke-linejoin="round">8</text>
<text transform="matrix(0.35999 0 0 0.36338 546.79 675.70)" font-size="100.0" font-weight="normal" fill="#000" stroke="#fff" stroke-width="1.106" stroke-linejoin="round">2</text>
<text transform="matrix(0.36219 0 0 0.36338 567.08 675.70)" font-size="100.0" font-weight="normal" fill="#000" stroke="#fff" stroke-width="1.103" stroke-linejoin="round">2</text>
<text transform="matrix(0.32496 0 0 0.37798 771.15 676.08)" font-size="100.0" font-weight="normal" fill="#000">$</text>
<text transform="matrix(0.39010 0 0 0.36338 789.92 675.70)" font-size="100.0" font-weight="normal" fill="#000" stroke="#fff" stroke-width="1.062" stroke-linejoin="round">6</text>
<g clip-path="url(#k20)"><text transform="matrix(0.31758 0 0 0.36047 810.21 675.70)" font-size="100.0" font-weight="normal" fill="#000">1</text></g>
<text transform="matrix(0.37121 0 0 0.36338 823.91 675.70)" font-size="100.0" font-weight="normal" fill="#000" stroke="#fff" stroke-width="1.089" stroke-linejoin="round">5</text>
<text transform="matrix(0.32085 0 -0.06604 0.34133 843.16 675.70)" font-size="100.0" fill="#000">,</text>
<text transform="matrix(0.36877 0 0 0.36338 851.35 675.70)" font-size="100.0" font-weight="normal" fill="#000" stroke="#fff" stroke-width="1.093" stroke-linejoin="round">2</text>
<path d="M871.50,650.90 L888.10,650.90 L888.10,653.38 L878.36,675.70 L875.48,675.70 L885.36,653.53 L871.50,653.53 Z" fill="#000"/>
<g clip-path="url(#k21)"><text transform="matrix(0.36516 0 0 0.36047 869.63 675.70)" font-size="100.0" font-weight="normal" fill="#000">7</text></g>
<text transform="matrix(0.39660 0 0 0.36338 887.99 675.70)" font-size="100.0" font-weight="normal" fill="#000" stroke="#fff" stroke-width="1.053" stroke-linejoin="round">6</text>
<text transform="matrix(0.37097 0 0 0.36338 1137.23 675.70)" font-size="100.0" font-weight="normal" fill="#000" stroke="#fff" stroke-width="1.089" stroke-linejoin="round">2</text>
<text transform="matrix(0.36489 0 0 0.36338 1157.61 675.70)" font-size="100.0" font-weight="normal" fill="#000" stroke="#fff" stroke-width="1.099" stroke-linejoin="round">3</text>
<text transform="matrix(0.35300 0 0 0.34150 1382.76 290.70)" font-size="100.0" fill="#000">404</text>
<text transform="matrix(0.35300 0 0 0.34150 1613.98 290.70)" font-size="100.0" fill="#000">$930,207</text>
<text transform="matrix(0.35300 0 0 0.34150 1966.52 290.70)" font-size="100.0" fill="#000">486</text>
<text transform="matrix(0.35300 0 0 0.34150 1392.19 368.80)" font-size="100.0" fill="#000">64</text>
<text transform="matrix(0.35300 0 0 0.34150 1613.71 368.80)" font-size="100.0" fill="#000">$503,154</text>
<text transform="matrix(0.35300 0 0 0.34150 1966.48 368.80)" font-size="100.0" fill="#000">106</text>
<text transform="matrix(0.35300 0 0 0.34150 1392.36 444.90)" font-size="100.0" fill="#000">67</text>
<text transform="matrix(0.35300 0 0 0.34150 1613.86 444.90)" font-size="100.0" fill="#000">$668,358</text>
<text transform="matrix(0.35300 0 0 0.34150 1392.34 520.80)" font-size="100.0" fill="#000">68</text>
<text transform="matrix(0.35300 0 0 0.34150 1623.43 520.80)" font-size="100.0" fill="#000">$712,432</text>
<text transform="matrix(0.35300 0 0 0.34150 1392.44 597.70)" font-size="100.0" fill="#000">85</text>
<text transform="matrix(0.35300 0 0 0.34150 1613.98 597.70)" font-size="100.0" fill="#000">$622,002</text>
<text transform="matrix(0.35300 0 0 0.34150 1392.42 675.80)" font-size="100.0" fill="#000">20</text>
<text transform="matrix(0.35300 0 0 0.34150 1613.76 675.80)" font-size="100.0" fill="#000">$731,634</text>
<rect x="15.50" y="17.10" width="2120.50" height="2.4" fill="#000"/>
<rect x="15.50" y="93.70" width="2120.50" height="2.4" fill="#000"/>
<rect x="15.50" y="241.70" width="2120.50" height="2.4" fill="#000"/>
<rect x="15.50" y="318.40" width="2120.50" height="2.4" fill="#000"/>
<rect x="15.50" y="394.80" width="2120.50" height="2.4" fill="#000"/>
<rect x="15.50" y="471.40" width="2120.50" height="2.4" fill="#000"/>
<rect x="15.50" y="548.10" width="2120.50" height="2.4" fill="#000"/>
<rect x="15.50" y="624.80" width="2120.50" height="2.4" fill="#000"/>
<rect x="15.50" y="701.20" width="2120.50" height="2.4" fill="#000"/>
<rect x="460.40" y="167.80" width="1674.40" height="2.4" fill="#000"/>
<rect x="15.50" y="17.10" width="2.4" height="686.50" fill="#000"/>
<rect x="2133.60" y="17.10" width="2.4" height="686.50" fill="#000"/>
<rect x="459.20" y="94.90" width="2.4" height="607.50" fill="#000"/>
<rect x="1304.30" y="94.90" width="2.4" height="607.50" fill="#000"/>
<rect x="670.60" y="169.00" width="2.4" height="533.40" fill="#000"/>
<rect x="1008.00" y="169.00" width="2.4" height="533.40" fill="#000"/>
<rect x="1516.50" y="169.00" width="2.4" height="533.40" fill="#000"/>
<rect x="1856.10" y="169.00" width="2.4" height="533.40" fill="#000"/>
</svg></body></html>
